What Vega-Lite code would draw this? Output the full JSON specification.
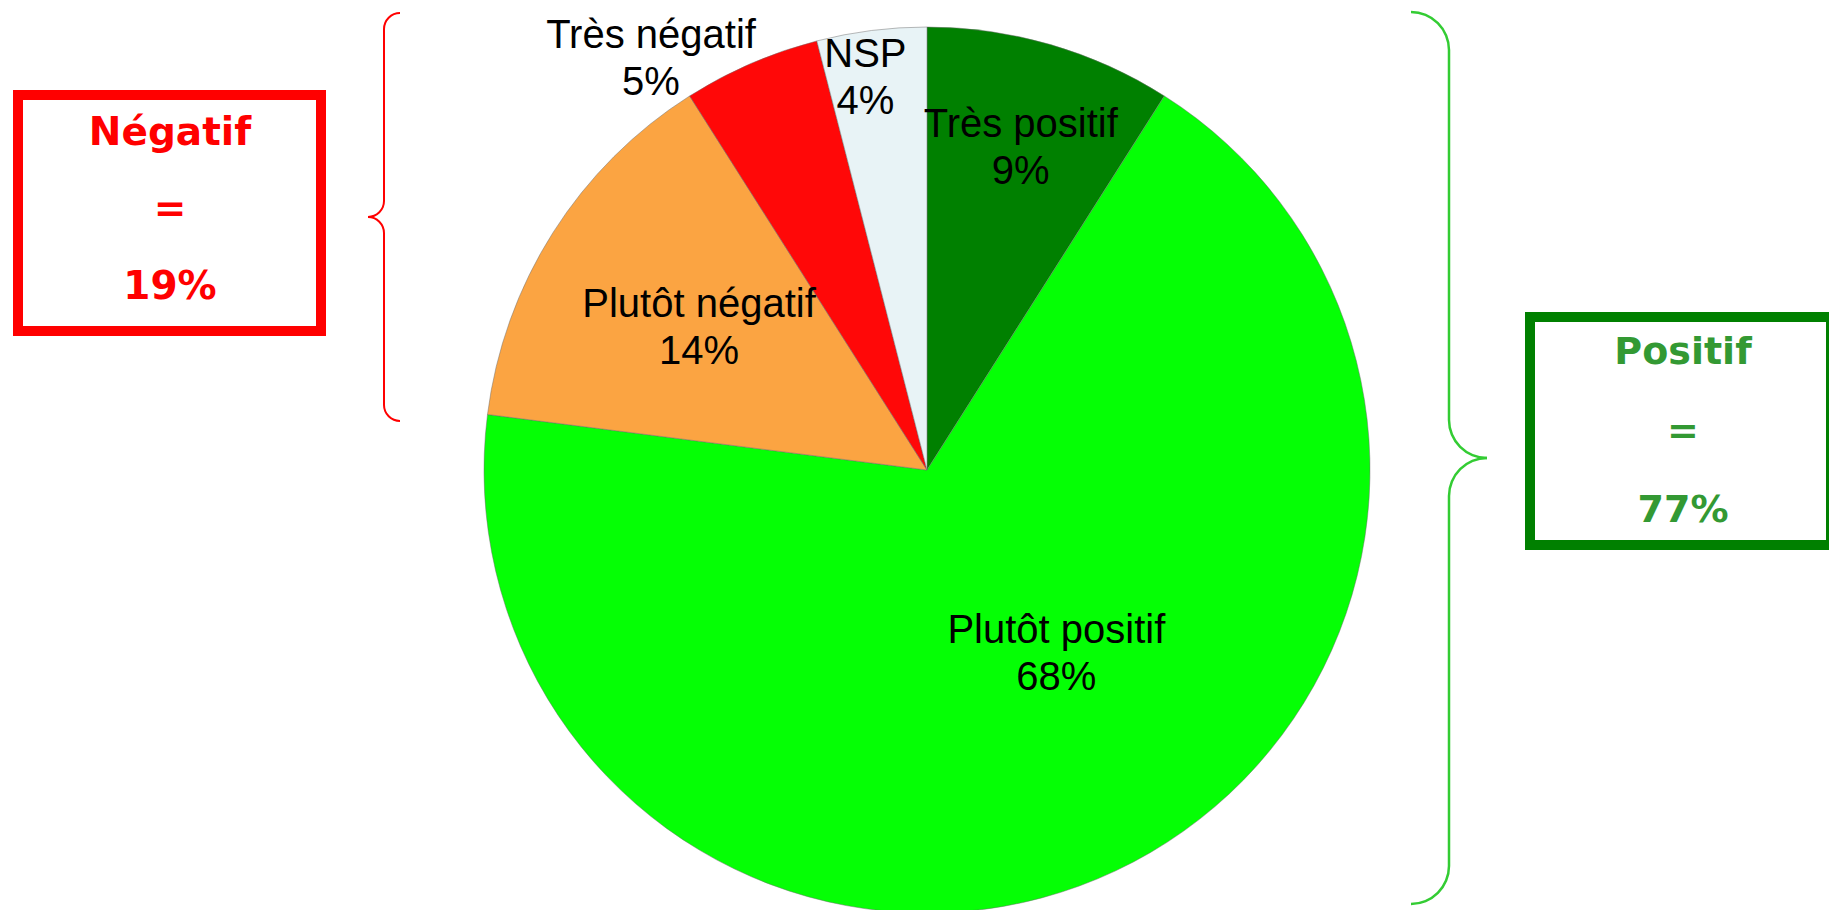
{
  "$schema": "https://vega.github.io/schema/vega-lite/v6.json",
  "width": 1829,
  "height": 910,
  "autosize": {"type": "none"},
  "padding": 0,
  "background": "white",
  "config": {"view": {"stroke": null}, "axis": {"disable": true}, "legend": {"disable": true}},
  "datasets": {
    "slices": [
      {"categorie": "Très positif", "pct": 9, "ordre": 1, "label": "Très positif\n9%"},
      {"categorie": "Plutôt positif", "pct": 68, "ordre": 2, "label": "Plutôt positif\n68%"},
      {"categorie": "Plutôt négatif", "pct": 14, "ordre": 3, "label": "Plutôt négatif\n14%"},
      {"categorie": "Très négatif", "pct": 5, "ordre": 4, "label": "Très négatif\n5%"},
      {"categorie": "NSP", "pct": 4, "ordre": 5, "label": "NSP\n4%"}
    ],
    "groupes": [
      {"groupe": "Négatif", "total": 19, "texte": "Négatif\n=\n19%"},
      {"groupe": "Positif", "total": 77, "texte": "Positif\n=\n77%"}
    ],
    "one": [{}]
  },
  "layer": [
    {
      "data": {"name": "slices"},
      "mark": {"type": "arc", "outerRadius": 443, "stroke": "#6b6b6b", "strokeWidth": 0.8, "strokeOpacity": 0.6},
      "encoding": {
        "x": {"datum": 927, "type": "quantitative", "scale": {"domain": [0, 1829], "nice": false, "zero": false}},
        "y": {"datum": 470, "type": "quantitative", "scale": {"domain": [0, 910], "nice": false, "zero": false, "reverse": true}},
        "theta": {"field": "pct", "type": "quantitative", "stack": true},
        "order": {"field": "ordre", "type": "quantitative"},
        "color": {"field": "categorie", "type": "nominal",
          "scale": {"domain": ["Très positif", "Plutôt positif", "Plutôt négatif", "Très négatif", "NSP"],
                    "range": ["#008000", "#05FF05", "#FBA442", "#FF0808", "#E8F3F6"]},
          "legend": null}
      }
    },
    {
      "data": {"name": "slices"},
      "mark": {"type": "text", "font": "Liberation Sans", "fontSize": 40, "lineHeight": 47, "lineBreak": "\n",
        "align": "center", "baseline": "middle", "color": "black",
        "radius": {"expr": "datum.ordre == 1 ? 336 : datum.ordre == 2 ? 224 : datum.ordre == 3 ? 270 : datum.ordre == 4 ? 496 : 396"},
        "dx": {"expr": "datum.ordre == 2 ? 34 : datum.ordre == 4 ? -79 : datum.ordre == 5 ? -12 : 0"},
        "dy": {"expr": "datum.ordre == 2 ? -42 : datum.ordre == 4 ? 21 : datum.ordre == 3 ? -20 : -22"}},
      "encoding": {
        "x": {"datum": 927, "type": "quantitative"},
        "y": {"datum": 470, "type": "quantitative"},
        "theta": {"field": "pct", "type": "quantitative", "stack": true},
        "order": {"field": "ordre", "type": "quantitative"},
        "text": {"field": "label", "type": "nominal"}
      }
    },
    {
      "data": {"name": "one"},
      "mark": {"type": "rect", "fill": "white", "stroke": "#FF0000", "strokeWidth": 10},
      "encoding": {
        "x": {"datum": 18, "type": "quantitative"}, "x2": {"datum": 321},
        "y": {"datum": 95, "type": "quantitative"}, "y2": {"datum": 331}
      }
    },
    {
      "data": {"name": "one"},
      "mark": {"type": "rect", "fill": "white", "stroke": "#008000", "strokeWidth": 10},
      "encoding": {
        "x": {"datum": 1530, "type": "quantitative"}, "x2": {"datum": 1831},
        "y": {"datum": 317, "type": "quantitative"}, "y2": {"datum": 545}
      }
    },
    {
      "data": {"name": "groupes"},
      "transform": [{"filter": "datum.groupe == 'Négatif'"}],
      "mark": {"type": "text", "font": "DejaVu Sans", "fontWeight": "bold", "fontSize": 39, "lineHeight": 77,
        "lineBreak": "\n", "align": "center", "baseline": "middle", "color": "#FF0000"},
      "encoding": {
        "x": {"datum": 170, "type": "quantitative"},
        "y": {"datum": 133, "type": "quantitative"},
        "text": {"field": "texte", "type": "nominal"}
      }
    },
    {
      "data": {"name": "groupes"},
      "transform": [{"filter": "datum.groupe == 'Positif'"}],
      "mark": {"type": "text", "font": "DejaVu Sans", "fontWeight": "bold", "fontSize": 38, "lineHeight": 79,
        "lineBreak": "\n", "align": "center", "baseline": "middle", "color": "#339933"},
      "encoding": {
        "x": {"datum": 1683, "type": "quantitative"},
        "y": {"datum": 353, "type": "quantitative"},
        "text": {"field": "texte", "type": "nominal"}
      }
    },
    {"data": {"name": "one"}, "mark": {"type": "rule", "color": "#FF0000", "strokeWidth": 2},
      "encoding": {"x": {"datum": 384, "type": "quantitative"}, "y": {"datum": 29, "type": "quantitative"}, "y2": {"datum": 201}}},
    {"data": {"name": "one"}, "mark": {"type": "rule", "color": "#FF0000", "strokeWidth": 2},
      "encoding": {"x": {"datum": 384, "type": "quantitative"}, "y": {"datum": 233, "type": "quantitative"}, "y2": {"datum": 405}}},
    {"data": {"name": "one"}, "mark": {"type": "arc", "color": "#FF0000", "radius": 17, "radius2": 15, "theta": 4.7124, "theta2": 6.2832},
      "encoding": {"x": {"datum": 400, "type": "quantitative"}, "y": {"datum": 29, "type": "quantitative"}}},
    {"data": {"name": "one"}, "mark": {"type": "arc", "color": "#FF0000", "radius": 17, "radius2": 15, "theta": 1.5708, "theta2": 3.1416},
      "encoding": {"x": {"datum": 368, "type": "quantitative"}, "y": {"datum": 201, "type": "quantitative"}}},
    {"data": {"name": "one"}, "mark": {"type": "arc", "color": "#FF0000", "radius": 17, "radius2": 15, "theta": 0, "theta2": 1.5708},
      "encoding": {"x": {"datum": 368, "type": "quantitative"}, "y": {"datum": 233, "type": "quantitative"}}},
    {"data": {"name": "one"}, "mark": {"type": "arc", "color": "#FF0000", "radius": 17, "radius2": 15, "theta": 3.1416, "theta2": 4.7124},
      "encoding": {"x": {"datum": 400, "type": "quantitative"}, "y": {"datum": 405, "type": "quantitative"}}},
    {"data": {"name": "one"}, "mark": {"type": "rule", "color": "#33CC33", "strokeWidth": 2.5},
      "encoding": {"x": {"datum": 1449, "type": "quantitative"}, "y": {"datum": 50, "type": "quantitative"}, "y2": {"datum": 420}}},
    {"data": {"name": "one"}, "mark": {"type": "rule", "color": "#33CC33", "strokeWidth": 2.5},
      "encoding": {"x": {"datum": 1449, "type": "quantitative"}, "y": {"datum": 496, "type": "quantitative"}, "y2": {"datum": 866}}},
    {"data": {"name": "one"}, "mark": {"type": "arc", "color": "#33CC33", "radius": 39.25, "radius2": 36.75, "theta": 0, "theta2": 1.5708},
      "encoding": {"x": {"datum": 1411, "type": "quantitative"}, "y": {"datum": 50, "type": "quantitative"}}},
    {"data": {"name": "one"}, "mark": {"type": "arc", "color": "#33CC33", "radius": 39.25, "radius2": 36.75, "theta": 3.1416, "theta2": 4.7124},
      "encoding": {"x": {"datum": 1487, "type": "quantitative"}, "y": {"datum": 420, "type": "quantitative"}}},
    {"data": {"name": "one"}, "mark": {"type": "arc", "color": "#33CC33", "radius": 39.25, "radius2": 36.75, "theta": 4.7124, "theta2": 6.2832},
      "encoding": {"x": {"datum": 1487, "type": "quantitative"}, "y": {"datum": 496, "type": "quantitative"}}},
    {"data": {"name": "one"}, "mark": {"type": "arc", "color": "#33CC33", "radius": 39.25, "radius2": 36.75, "theta": 1.5708, "theta2": 3.1416},
      "encoding": {"x": {"datum": 1411, "type": "quantitative"}, "y": {"datum": 866, "type": "quantitative"}}}
  ]
}
